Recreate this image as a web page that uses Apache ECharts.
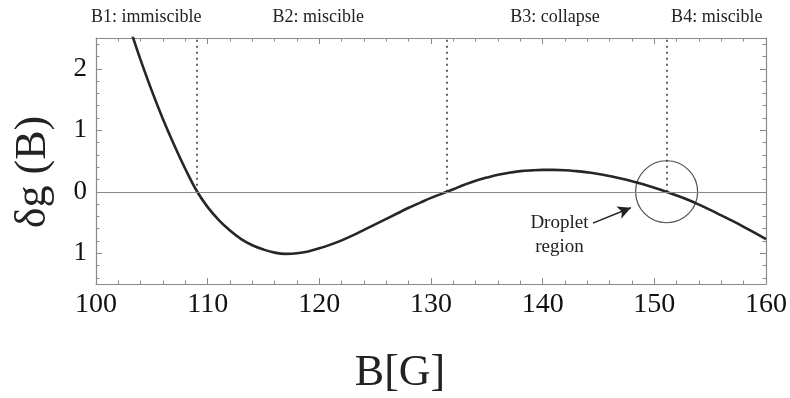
<!DOCTYPE html>
<html>
<head>
<meta charset="utf-8">
<script src="https://cdn.jsdelivr.net/npm/echarts@6/dist/echarts.min.js"></script>
<style>
  html, body { margin: 0; padding: 0; background: #fff; }
  #chart { width: 790px; height: 398px; }
</style>
</head>
<body>
<div id="chart"></div>
<script>
// Magnetic field B (G) and the energy difference δg(B)
const fieldB = [103.2, 104, 105, 106, 107, 108, 109, 110, 111, 112, 113, 114, 115, 116, 117, 118, 119, 120,
  121, 122, 123, 124, 125, 126, 127, 128, 129, 130, 131, 132, 133, 134, 135, 136, 137, 138, 139, 140,
  141, 142, 143, 144, 145, 146, 147, 148, 149, 150, 151, 152, 153, 154, 155, 156, 157, 158, 159, 160];
const deltaG = [2.57, 2.14, 1.64, 1.18, 0.76, 0.37, 0.02, -0.25, -0.46, -0.63, -0.77, -0.87, -0.94, -0.99, -1.01, -1.00, -0.97, -0.92,
  -0.86, -0.79, -0.71, -0.62, -0.53, -0.44, -0.35, -0.26, -0.18, -0.10, -0.03, 0.04, 0.115, 0.18, 0.23, 0.275, 0.31, 0.335, 0.348, 0.355,
  0.355, 0.35, 0.335, 0.315, 0.29, 0.255, 0.215, 0.17, 0.12, 0.065, 0.005, -0.06, -0.13, -0.21, -0.295, -0.385, -0.475, -0.57, -0.67, -0.77];

// Phase boundaries (zero crossings) and regime labels
const boundaryB = [109.0, 131.4, 151.1];
const regimeNames = ['B1: immiscible', 'B2: miscible', 'B3: collapse', 'B4: miscible'];
const regimeLabelB = [104.5, 119.9, 141.1, 155.6];

// Axis ticks
const xMin = 100, xMax = 160, xStep = 10;
const yMin = -1.5, yMax = 2.5;
const yMajorTicks = [-1, 0, 1, 2];
const yMinorTicks = [-1.4, -1.2, -0.8, -0.6, -0.4, -0.2, 0.2, 0.4, 0.6, 0.8, 1.2, 1.4, 1.6, 1.8, 2.2, 2.4];

// Droplet annotation
const dropletCenter = [151.1, 0];
const arrowTail = [144.5, -0.51];
const arrowTip = [147.9, -0.26];
const dropletLabelAt = [141.5, -0.69];

const serif = 'Liberation Serif';
const frameColor = '#8a8a8a';
const inkColor = '#222';

const chart = echarts.init(document.getElementById('chart'), null, { renderer: 'canvas' });

function yAxisPair(position) {
  return [
    {
      type: 'value', min: yMin, max: yMax, interval: 0.5, position: position,
      axisLine: { show: true, lineStyle: { color: frameColor, width: 1.2 } },
      axisTick: { show: true, inside: true, length: 6, customValues: yMajorTicks, lineStyle: { color: frameColor, width: 1 } },
      axisLabel: position === 'left' ? {
        show: true, customValues: yMajorTicks, margin: 9,
        formatter: v => String(Math.abs(v)),
        fontFamily: serif, fontSize: 27, color: '#111'
      } : { show: false },
      splitLine: { show: false }
    },
    {
      type: 'value', min: yMin, max: yMax, interval: 0.5, position: position,
      axisLine: { show: false },
      axisTick: { show: true, inside: true, length: 3.5, customValues: yMinorTicks, lineStyle: { color: frameColor, width: 1 } },
      axisLabel: { show: false },
      splitLine: { show: false }
    }
  ];
}

function xAxisDef(position) {
  return {
    type: 'value', min: xMin, max: xMax, interval: xStep, position: position,
    axisLine: { show: true, onZero: false, lineStyle: { color: frameColor, width: 1.2 } },
    axisTick: { show: true, inside: true, length: 6, lineStyle: { color: frameColor, width: 1 } },
    minorTick: { show: true, splitNumber: 5, length: 3.5, lineStyle: { color: frameColor, width: 1 } },
    axisLabel: position === 'bottom' ? {
      show: true, margin: 7, fontFamily: serif, fontSize: 28, color: '#111'
    } : { show: false },
    splitLine: { show: false },
    minorSplitLine: { show: false }
  };
}

const option = {
  animation: false,
  backgroundColor: '#fff',
  grid: { left: 96, right: 23, top: 38, bottom: 114 },
  xAxis: [xAxisDef('bottom'), xAxisDef('top')],
  yAxis: [...yAxisPair('left'), ...yAxisPair('right')],
  graphic: [
    {
      type: 'text', x: 400, y: 373,
      style: { text: 'B[G]', font: '44px "' + serif + '"', fill: inkColor, textAlign: 'center', textVerticalAlign: 'middle' }
    },
    {
      type: 'text', x: 33, y: 172, rotation: Math.PI / 2,
      style: { text: 'δg (B)', font: '44px "' + serif + '"', fill: inkColor, textAlign: 'center', textVerticalAlign: 'middle' }
    }
  ],
  series: [
    {
      // zero reference, boundaries, arrow and labels
      type: 'line', xAxisIndex: 0, yAxisIndex: 0, data: [], silent: true,
      markLine: {
        silent: true, symbol: ['none', 'none'], label: { show: false },
        data: [
          [{ coord: [xMin, 0], lineStyle: { color: '#8a8a8a', width: 1.2, type: 'solid' } }, { coord: [xMax, 0] }],
          ...boundaryB.map(b => [
            { coord: [b, 0], lineStyle: { color: '#333', width: 1.5, type: [2, 4] } },
            { coord: [b, yMax] }
          ]),
          [
            { coord: arrowTail, symbol: 'none', lineStyle: { color: '#222', width: 1.4, type: 'solid' } },
            { coord: arrowTip, symbol: 'arrow', symbolSize: [10, 13] }
          ]
        ]
      },
      markPoint: {
        silent: true, symbol: 'circle', symbolSize: 0,
        data: [
          ...regimeNames.map((name, i) => ({
            coord: [regimeLabelB[i], yMax],
            label: { show: true, formatter: name, position: 'inside', offset: [0, -21], fontFamily: serif, fontSize: 18, color: inkColor }
          })),
          {
            coord: dropletLabelAt,
            label: { show: true, formatter: 'Droplet\nregion', position: 'inside', offset: [0, 1], fontFamily: serif, fontSize: 19, lineHeight: 24, color: inkColor, align: 'center' }
          }
        ]
      }
    },
    {
      type: 'line', xAxisIndex: 0, yAxisIndex: 0,
      data: fieldB.map((b, i) => [b, deltaG[i]]),
      smooth: 0.4, showSymbol: false, clip: true,
      lineStyle: { color: '#262626', width: 2.6 },
      z: 3
    },
    {
      // droplet region marker
      type: 'scatter', xAxisIndex: 0, yAxisIndex: 0,
      data: [dropletCenter],
      symbol: 'circle', symbolSize: 62,
      itemStyle: { color: 'rgba(0,0,0,0)', borderColor: '#222', borderWidth: 1.2 },
      z: 4
    }
  ]
};

chart.setOption(option);
</script>
</body>
</html>
